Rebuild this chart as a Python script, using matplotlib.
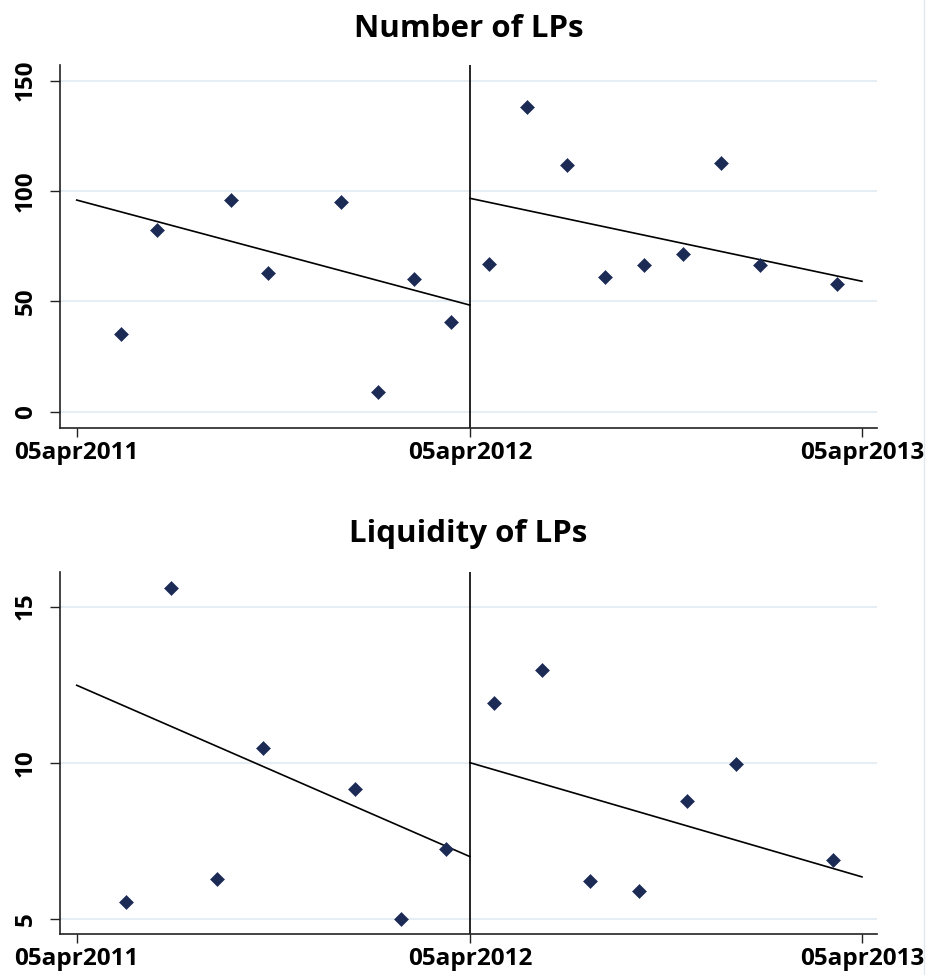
import matplotlib
matplotlib.use("Agg")
import matplotlib.pyplot as plt
from matplotlib.lines import Line2D

plt.rcParams['font.family'] = ['Open Sans', 'DejaVu Sans']

# x values: days since 05apr2011
tick_days = [0, 366, 731]
tick_labels = ["05apr2011", "05apr2012", "05apr2013"]
break_day = 366

# Panel 1: Number of LPs
num_pre_days = [41, 75, 144, 178, 246, 280, 314, 348]
num_pre_vals = [35.3, 82.5, 95.8, 62.8, 95.0, 8.9, 60.3, 40.6]
num_post_days = [384, 419, 456, 492, 528, 564, 600, 636, 708]
num_post_vals = [66.9, 137.9, 111.8, 61.0, 66.5, 71.5, 112.8, 66.3, 57.7]
num_fit_pre_days = [0, 366]
num_fit_pre_vals = [95.9, 48.3]
num_fit_post_days = [366, 731]
num_fit_post_vals = [96.7, 59.1]
num_yticks = [0, 50, 100, 150]

# Panel 2: Liquidity of LPs
liq_pre_days = [46, 88, 131, 173, 259, 302, 344]
liq_pre_vals = [5.55, 15.6, 6.28, 10.47, 9.16, 4.99, 7.22]
liq_post_days = [388, 433, 478, 523, 568, 614, 704]
liq_post_vals = [11.92, 12.98, 6.22, 5.90, 8.78, 9.97, 6.87]
liq_fit_pre_days = [0, 366]
liq_fit_pre_vals = [12.48, 6.99]
liq_fit_post_days = [366, 731]
liq_fit_post_vals = [10.0, 6.34]
liq_yticks = [5, 10, 15]

W, H = 929, 975
fig = plt.figure(figsize=(W / 100, H / 100), dpi=100)
fig.patch.set_facecolor('white')

MARK = '#1c2b55'
GRID = '#e4edf2'
SPINE = '#222222'


def panel(rect, title, title_base, pre_d, pre_v, post_d, post_v,
          fpre_d, fpre_v, fpost_d, fpost_v, yticks, ylim):
    ax = fig.add_axes(rect)
    ax.set_xlim(-15.3, 745)
    ax.set_ylim(*ylim)
    for yt in yticks:
        ax.axhline(yt, color=GRID, lw=1.3, zorder=0)
    ax.plot(fpre_d, fpre_v, color='black', lw=1.2, zorder=2)
    ax.plot(fpost_d, fpost_v, color='black', lw=1.2, zorder=2)
    ax.axvline(break_day, color='black', lw=1.2, zorder=2)
    ax.plot(pre_d, pre_v, ls='none', marker='D', ms=7.0, color=MARK,
            mec=MARK, mew=0.4, zorder=3)
    ax.plot(post_d, post_v, ls='none', marker='D', ms=7.0, color=MARK,
            mec=MARK, mew=0.4, zorder=3)
    for s in ['top', 'right']:
        ax.spines[s].set_visible(False)
    for s in ['left', 'bottom']:
        ax.spines[s].set_color(SPINE)
        ax.spines[s].set_linewidth(1.2)
    ax.set_xticks(tick_days)
    ax.set_xticklabels(tick_labels)
    ax.set_yticks(yticks)
    ax.set_yticklabels([str(v) for v in yticks])
    ax.tick_params(axis='x', length=6.5, width=1.0, color=SPINE, pad=3,
                   labelsize=17.5)
    ax.tick_params(axis='y', length=7.2, width=1.0, color=SPINE, pad=9,
                   labelsize=17.5, labelrotation=90)
    for lab in ax.get_xticklabels() + ax.get_yticklabels():
        lab.set_fontweight('bold')
    for lab in ax.get_yticklabels():
        lab.set_va('center')
    fig.text(0.5045, title_base, title, ha='center', va='baseline',
             fontsize=22.5, fontweight='bold')
    return ax


panel([60.3 / W, 1 - 427.7 / H, (877 - 60.3) / W, (427.7 - 65) / H],
      "Number of LPs", 1 - 37 / H,
      num_pre_days, num_pre_vals, num_post_days, num_post_vals,
      num_fit_pre_days, num_fit_pre_vals, num_fit_post_days, num_fit_post_vals,
      num_yticks, (-7.25, 157.1))

panel([60.3 / W, 1 - 934.3 / H, (877 - 60.3) / W, (934.3 - 572.3) / H],
      "Liquidity of LPs", 1 - 542 / H,
      liq_pre_days, liq_pre_vals, liq_post_days, liq_post_vals,
      liq_fit_pre_days, liq_fit_pre_vals, liq_fit_post_days, liq_fit_post_vals,
      liq_yticks, (4.5, 16.1))

fig.add_artist(Line2D([924.5 / W, 924.5 / W], [0, 1], color='#e3e8ec', lw=1.0,
                      transform=fig.transFigure))

fig.savefig('out.png', dpi=100, facecolor='white')
